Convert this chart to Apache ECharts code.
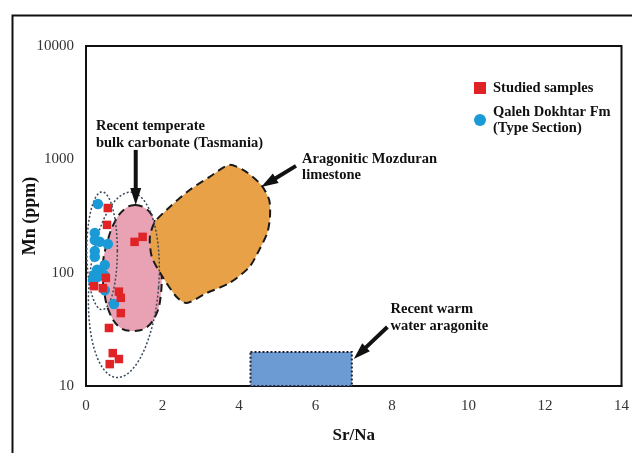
<!DOCTYPE html>
<html><head><meta charset="utf-8">
<script src="https://cdn.jsdelivr.net/npm/echarts@6/dist/echarts.min.js"></script>
<style>html,body{margin:0;padding:0;background:#fff}#c{width:632px;height:453px}</style>
</head><body><div id="c"></div>
<script>
// ---- data ----
const xTicks = [0, 2, 4, 6, 8, 10, 12, 14];
const yTicks = [10, 100, 1000, 10000];
const studiedSamples = [[0.57,372],[0.55,264],[1.27,187],[1.48,207],[0.52,90],[0.21,76],[0.44,73],[0.86,68],[0.91,60],[0.91,44],[0.60,32.5],[0.70,19.5],[0.86,17.3],[0.62,15.6]];
const qalehDokhtar = [[0.31,404],[0.23,224],[0.23,194],[0.36,187],[0.57,179],[0.23,155],[0.23,138],[0.49,117],[0.29,106],[0.21,95.5],[0.47,95.5],[0.18,86],[0.31,92],[0.49,70],[0.73,53]];
const temperateRegion = [[1.28,396],[1.54,372],[1.72,323],[1.87,238],[1.95,176],[1.98,95],[1.95,61],[1.85,44],[1.59,33],[1.22,30.6],[0.88,33],[0.62,44],[0.47,70],[0.44,117],[0.55,183],[0.75,280],[1.01,365]];
const mozduranRegion = [[3.75,893],[4.19,774],[4.58,594],[4.79,438],[4.81,310],[4.74,224],[4.53,159],[4.27,112],[3.75,81],[3.15,66],[2.63,54],[2.37,61],[2.00,92],[1.72,138],[1.67,207],[1.80,280],[2.19,380],[2.71,537],[3.23,700]];
const warmAragoniteBox = [[4.3, 10], [6.95, 20]];
// [centre Sr/Na, centre Mn, half-width (Sr/Na), half-height (decades), rotation rad]
const dottedEllipses = [[0.42, 156, 0.40, 0.52, 0], [0.99, 78, 0.91, 0.82, -0.08]];
// [tail Sr/Na, tail Mn, tip Sr/Na, tip Mn]
const arrows = [[1.30, 1211, 1.30, 396], [5.49, 875, 4.58, 570], [7.88, 33.2, 7.0, 17.3]];
const annotations = [
  [0.26, 1972, 'Recent temperate'], [0.26, 1396, 'bulk carbonate (Tasmania)'],
  [5.65, 1009, 'Aragonitic Mozduran'], [5.65, 728, 'limestone'],
  [7.96, 47.9, 'Recent warm'], [7.96, 33.9, 'water aragonite']
];

const FONT = '"Liberation Serif", "DejaVu Serif", serif';
const chart = echarts.init(document.getElementById('c'), null, {renderer: 'canvas'});

function regionSeries(pts, fill, z, smooth) {
  return {type: 'custom', silent: true, z: z, clip: false, data: [pts[0]],
    renderItem: (params, api) => ({
      type: 'polygon',
      shape: {points: pts.map(p => api.coord(p)), smooth: smooth},
      style: {fill: fill, stroke: '#1a1a1a', lineWidth: 2, lineDash: [8, 5]}
    })};
}

const series = [
  regionSeries(temperateRegion, '#e8a2b4', 1, 0.4),
  regionSeries(mozduranRegion, '#e8a146', 2, 0.25),
  {type: 'custom', silent: true, z: 2, clip: false, data: [warmAragoniteBox[0]],
    renderItem: (params, api) => {
      const a = api.coord([warmAragoniteBox[0][0], warmAragoniteBox[1][1]]);
      const b = api.coord([warmAragoniteBox[1][0], warmAragoniteBox[0][1]]);
      return {type: 'rect', shape: {x: a[0], y: a[1], width: b[0] - a[0], height: b[1] - a[1]},
        style: {fill: '#6b9bd2', stroke: '#223', lineWidth: 2, lineDash: [2, 2]}};
    }},
  {type: 'custom', silent: true, z: 3, clip: false, data: dottedEllipses.map(e => [e[0], e[1]]),
    renderItem: (params, api) => {
      const e = dottedEllipses[params.dataIndex];
      const c = api.coord([e[0], e[1]]);
      const px = api.coord([e[0] + e[2], e[1]]);
      const py = api.coord([e[0], e[1] * Math.pow(10, e[3])]);
      const rx = px[0] - c[0], ry = c[1] - py[1], r = e[4];
      const pts = [];
      for (let i = 0; i < 72; i++) {
        const t = i / 72 * Math.PI * 2;
        const dx = rx * Math.cos(t), dy = ry * Math.sin(t);
        pts.push([c[0] + dx * Math.cos(r) + dy * Math.sin(r), c[1] - dx * Math.sin(r) + dy * Math.cos(r)]);
      }
      return {type: 'polygon', shape: {points: pts},
        style: {fill: null, stroke: '#3a4a5a', lineWidth: 1.5, lineDash: [2, 2]}};
    }},
  {name: 'Qaleh Dokhtar Fm\n(Type Section)', type: 'scatter', z: 5, symbol: 'circle', symbolSize: 10.5,
    itemStyle: {color: '#1a9ad6', opacity: 1}, data: qalehDokhtar},
  {name: 'Studied samples', type: 'scatter', z: 6, symbol: 'rect', symbolSize: 8.5,
    itemStyle: {color: '#e02326', opacity: 1}, data: studiedSamples},
  {type: 'custom', silent: true, z: 7, clip: false, data: arrows.map(a => [a[2], a[3]]),
    renderItem: (params, api) => {
      const a = arrows[params.dataIndex];
      const t = api.coord([a[0], a[1]]), p = api.coord([a[2], a[3]]);
      const len = Math.hypot(p[0] - t[0], p[1] - t[1]);
      const dx = (p[0] - t[0]) / len, dy = (p[1] - t[1]) / len;
      const L = 17, W = 11;
      const b = [p[0] - dx * L, p[1] - dy * L];
      const nx = -dy, ny = dx;
      return {type: 'group', children: [
        {type: 'line', shape: {x1: t[0], y1: t[1], x2: b[0] + dx * 2, y2: b[1] + dy * 2},
          style: {stroke: '#111', lineWidth: 4}},
        {type: 'polygon', shape: {points: [p, [b[0] + nx * W / 2, b[1] + ny * W / 2], [b[0] - nx * W / 2, b[1] - ny * W / 2]]},
          style: {fill: '#111'}}
      ]};
    }},
  {type: 'custom', silent: true, z: 8, clip: false, data: annotations.map(a => [a[0], a[1]]),
    renderItem: (params, api) => {
      const a = annotations[params.dataIndex];
      const p = api.coord([a[0], a[1]]);
      return {type: 'text', x: p[0], y: p[1],
        style: {text: a[2], fill: '#111', font: 'bold 14.5px ' + FONT, align: 'left', verticalAlign: 'middle'}};
    }}
];

chart.setOption({
  animation: false,
  backgroundColor: '#fff',
  graphic: [{type: 'rect', left: 10, top: 13, shape: {width: 640, height: 460},
    style: {fill: null, stroke: '#111', lineWidth: 2}, silent: true, z: 100}],
  grid: {left: 86, right: 8, top: 46, bottom: 67, show: true, borderColor: '#111', borderWidth: 2},
  legend: {
    data: ['Studied samples', 'Qaleh Dokhtar Fm\n(Type Section)'],
    orient: 'vertical', left: 469, top: 75, itemGap: 8, itemWidth: 12, itemHeight: 12,
    selectedMode: false,
    textStyle: {fontFamily: FONT, fontWeight: 'bold', fontSize: 14.5, color: '#111', lineHeight: 16, padding: [0, 0, 0, 2]}
  },
  xAxis: {
    type: 'value', min: xTicks[0], max: xTicks[xTicks.length - 1], interval: 2,
    name: 'Sr/Na', nameLocation: 'middle', nameGap: 41, nameMoveOverlap: false,
    nameTextStyle: {fontFamily: FONT, fontWeight: 'bold', fontSize: 17, color: '#111'},
    axisLine: {show: true, lineStyle: {color: '#111', width: 2}},
    axisTick: {show: false}, splitLine: {show: false},
    axisLabel: {fontFamily: FONT, fontSize: 15, color: '#333', margin: 13}
  },
  yAxis: {
    type: 'log', logBase: 10, min: yTicks[0], max: yTicks[yTicks.length - 1],
    name: 'Mn (ppm)', nameLocation: 'middle', nameGap: 47, nameRotate: 90, nameMoveOverlap: false,
    nameTextStyle: {fontFamily: FONT, fontWeight: 'bold', fontSize: 18, color: '#111'},
    axisLine: {show: true, lineStyle: {color: '#111', width: 2}},
    axisTick: {show: false}, splitLine: {show: false}, minorTick: {show: false},
    axisLabel: {fontFamily: FONT, fontSize: 15, color: '#333', margin: 12, formatter: v => String(Math.round(v))}
  },
  series: series
});
</script></body></html>
